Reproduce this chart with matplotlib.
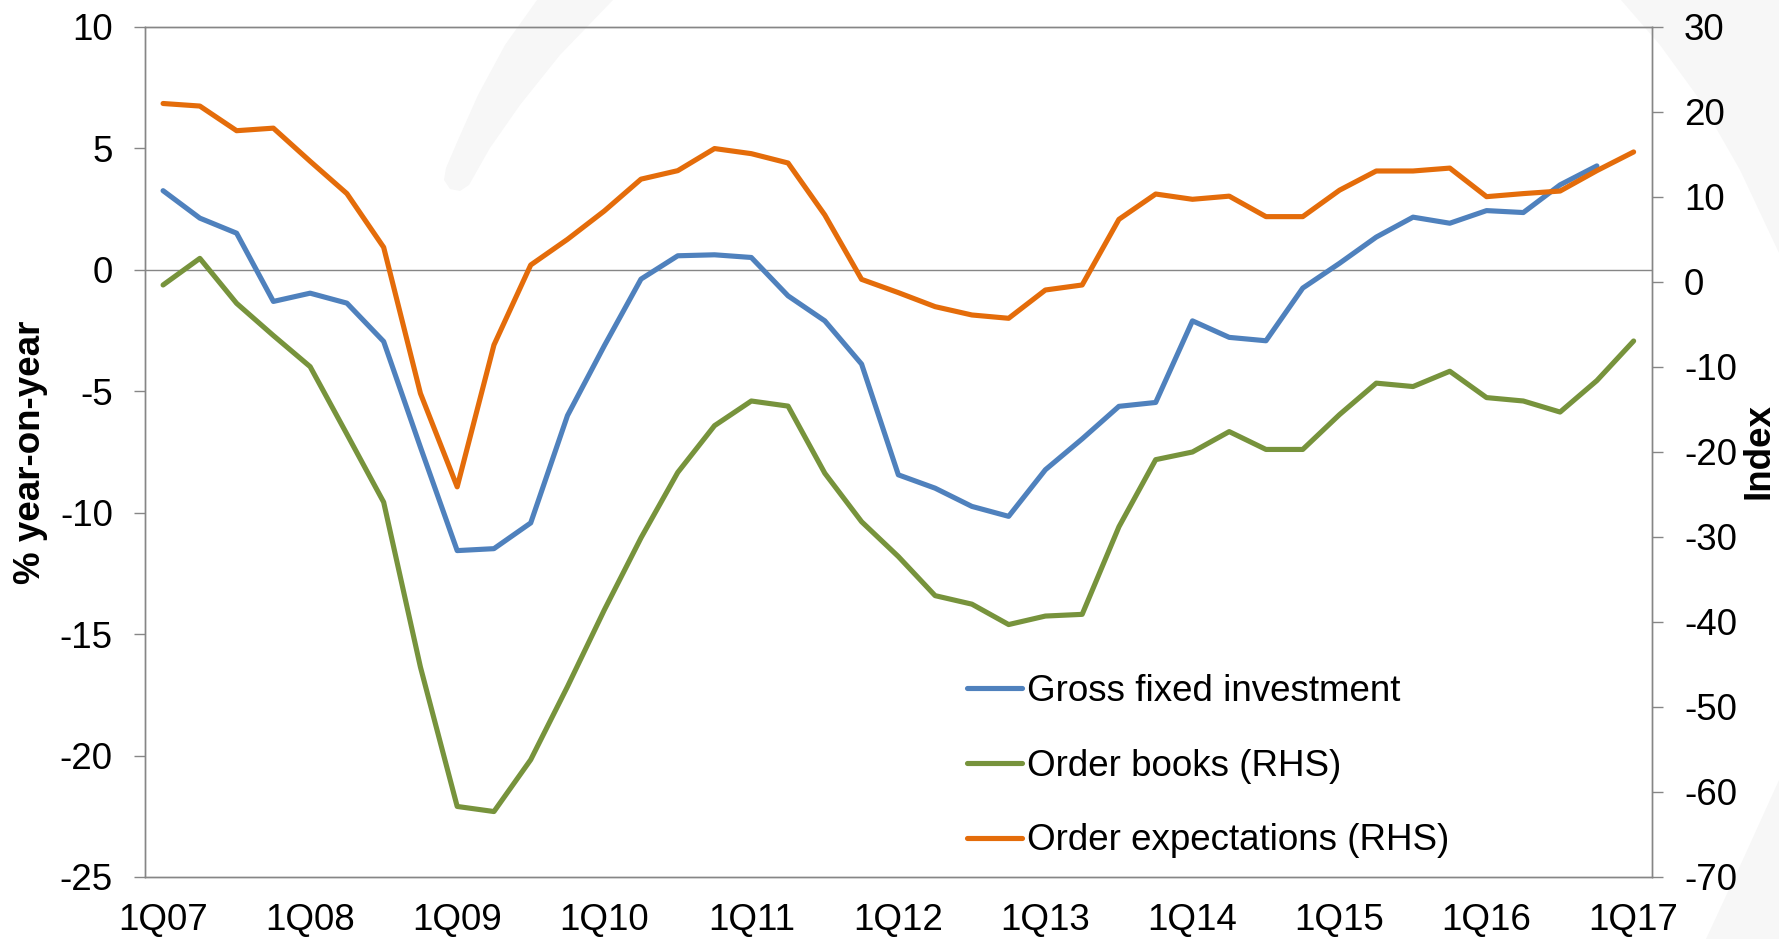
import matplotlib
matplotlib.use("Agg")
import matplotlib.pyplot as plt
from matplotlib.patches import Polygon
import numpy as np

plt.rcParams['font.family'] = ['Liberation Sans', 'DejaVu Sans']

# ---------------- data ----------------
quarters = [f"{q}Q{y:02d}" for y in range(7, 17) for q in range(1, 5)] + ["1Q17"]
tick_labels = ["1Q07", "1Q08", "1Q09", "1Q10", "1Q11", "1Q12", "1Q13",
               "1Q14", "1Q15", "1Q16", "1Q17"]

gross_fixed_investment = [3.26, 2.13, 1.51, -1.30, -0.96, -1.37, -2.95, -7.3, -11.56, -11.48,
                          -10.42, -6.0, -3.13, -0.38, 0.58, 0.62, 0.51, -1.07, -2.10, -3.88,
                          -8.44, -8.99, -9.74, -10.15, -8.23, -6.96, -5.62, -5.46, -2.10, -2.78,
                          -2.92, -0.75, 0.27, 1.35, 2.17, 1.92, 2.44, 2.36, 3.50, 4.28]

order_books = [-0.35, 2.78, -2.51, -6.3, -9.96, -17.9, -25.9, -45.3, -61.7, -62.3,
               -56.2, -47.6, -38.6, -30.1, -22.4, -16.9, -14.0, -14.6, -22.5, -28.2,
               -32.3, -36.9, -37.9, -40.3, -39.3, -39.1, -28.8, -20.9, -20.0, -17.6,
               -19.7, -19.7, -15.6, -11.9, -12.3, -10.5, -13.6, -14.0, -15.3, -11.6,
               -6.94]

order_expectations = [21.0, 20.7, 17.8, 18.1, 14.2, 10.4, 4.08, -13.1, -24.1, -7.41,
                      2.0, 5.02, 8.35, 12.1, 13.1, 15.7, 15.1, 14.0, 7.88, 0.31,
                      -1.25, -2.90, -3.88, -4.27, -0.94, -0.35, 7.37, 10.35, 9.73, 10.1,
                      7.69, 7.69, 10.8, 13.06, 13.06, 13.4, 10.04, 10.4, 10.7, 13.1,
                      15.3]

left_ticks = [-25, -20, -15, -10, -5, 0, 5, 10]
right_ticks = [-70, -60, -50, -40, -30, -20, -10, 0, 10, 20, 30]

BLUE = "#4F81BD"
GREEN = "#77933C"
ORANGE = "#E46C0A"
GRAY = "#868686"

W, H = 1779, 939
fig = plt.figure(figsize=(W / 100, H / 100), dpi=100)
fig.patch.set_facecolor("white")

# ---------- faint background watermark (in a background axes, pixel coords) ----------
bg = fig.add_axes([0, 0, 1, 1], zorder=-10)
bg.set_xlim(0, W)
bg.set_ylim(H, 0)
bg.axis("off")
wm_color = "#f7f7f7"
left_stroke = [(537, 0), (505, 45), (478, 95), (458, 140), (446, 168), (444, 180),
               (450, 189), (460, 191), (469, 185), (490, 148), (520, 105),
               (560, 55), (613, 0)]
right_top = [(1621, 0), (1660, 45), (1700, 100), (1740, 170), (1779, 253), (1779, 0)]
right_bot = [(1779, 780), (1745, 855), (1706, 939), (1779, 939)]
for shape in (left_stroke, right_top, right_bot):
    bg.add_patch(Polygon(shape, closed=True, facecolor=wm_color, edgecolor="none"))

# ---------- axes ----------
x0, x1, y0, y1 = 144.7, 1652, 27, 877
ax = fig.add_axes([x0 / W, 1 - y1 / H, (x1 - x0) / W, (y1 - y0) / H], zorder=1)
ax.set_facecolor("none")
ax2 = ax.twinx()
ax2.set_facecolor("none")

x_all = np.arange(len(quarters))
lw = 3.7
l1, = ax.plot(x_all[:len(gross_fixed_investment)], gross_fixed_investment, color=BLUE, lw=lw,
              solid_capstyle="round", label="Gross fixed investment", zorder=3)
l2, = ax2.plot(x_all[:len(order_books)], order_books, color=GREEN, lw=lw,
               solid_capstyle="round", label="Order books (RHS)", zorder=3)
l3, = ax2.plot(x_all[:len(order_expectations)], order_expectations, color=ORANGE, lw=lw,
               solid_capstyle="round", label="Order expectations (RHS)", zorder=3)

ax.axhline(0, color=GRAY, lw=1.0, zorder=1)

ax.set_xlim(-0.5, len(quarters) - 0.5)
ax.set_ylim(-25, 10)
ax2.set_ylim(-70, 30)

ax.set_yticks(left_ticks)
ax.set_yticklabels([str(t) for t in left_ticks])
ax2.set_yticks(right_ticks)
ax2.set_yticklabels([str(t) for t in right_ticks])
ax.set_xticks([quarters.index(t) for t in tick_labels])
ax.set_xticklabels(tick_labels)

fs = 26.5
ax.tick_params(axis="y", labelsize=fs, length=8, width=1.0, color=GRAY, pad=15, direction="out")
ax2.tick_params(axis="y", labelsize=fs, length=8, width=1.0, color=GRAY, pad=15, direction="out")
ax.tick_params(axis="x", labelsize=fs, length=0, pad=19)

for a in (ax, ax2):
    for s in a.spines.values():
        s.set_color(GRAY)
        s.set_linewidth(1.0)

fig.text(31 / W, 1 - 452 / H, "% year-on-year", rotation=90, ha="center", va="center",
         fontsize=26.5, fontweight="bold")
fig.text(1759 / W, 1 - 451 / H, "Index", rotation=90, ha="center", va="center",
         fontsize=26.5, fontweight="bold")

leg = ax2.legend(handles=[l1, l2, l3], loc="upper left",
                 bbox_to_anchor=(967 / W, 1 - 674 / H), bbox_transform=fig.transFigure,
                 frameon=False, fontsize=fs, handlelength=1.5, handletextpad=0.12,
                 labelspacing=1.08, borderpad=0, borderaxespad=0)

fig.savefig("out.png", dpi=100, facecolor="white")
